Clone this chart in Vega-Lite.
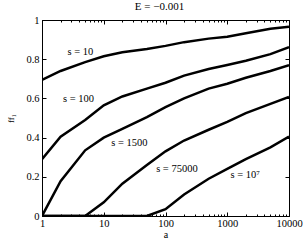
{
  "$schema": "https://vega.github.io/schema/vega-lite/v6.json",
  "width": 247,
  "height": 196,
  "autosize": {"type": "none"},
  "padding": {"left": 42, "top": 20, "right": 17, "bottom": 25},
  "background": "white",
  "config": {
    "view": {"stroke": "black", "strokeWidth": 1},
    "font": "Liberation Serif",
    "axis": {
      "labelFont": "Liberation Serif",
      "titleFont": "Liberation Serif",
      "labelFontSize": 10.5,
      "titleFontSize": 10.5,
      "titleFontWeight": "normal",
      "labelColor": "black",
      "titleColor": "black",
      "domainColor": "black",
      "tickColor": "black",
      "grid": false
    }
  },
  "title": {"text": "E = −0.001", "font": "Liberation Serif", "fontSize": 11, "fontWeight": "normal", "color": "black", "offset": 3, "dx": -6},
  "datasets": {
    "curves": [
      {"s": "10", "a": 1, "f": 0.695}, {"s": "10", "a": 2, "f": 0.74}, {"s": "10", "a": 5, "f": 0.785}, {"s": "10", "a": 10, "f": 0.815}, {"s": "10", "a": 20, "f": 0.835}, {"s": "10", "a": 50, "f": 0.852}, {"s": "10", "a": 100, "f": 0.868}, {"s": "10", "a": 200, "f": 0.887}, {"s": "10", "a": 500, "f": 0.905}, {"s": "10", "a": 1000, "f": 0.915}, {"s": "10", "a": 2000, "f": 0.932}, {"s": "10", "a": 5000, "f": 0.955}, {"s": "10", "a": 10000, "f": 0.965},
      {"s": "100", "a": 1, "f": 0.29}, {"s": "100", "a": 2, "f": 0.405}, {"s": "100", "a": 5, "f": 0.49}, {"s": "100", "a": 10, "f": 0.565}, {"s": "100", "a": 20, "f": 0.61}, {"s": "100", "a": 50, "f": 0.65}, {"s": "100", "a": 100, "f": 0.68}, {"s": "100", "a": 200, "f": 0.716}, {"s": "100", "a": 500, "f": 0.75}, {"s": "100", "a": 1000, "f": 0.77}, {"s": "100", "a": 2000, "f": 0.792}, {"s": "100", "a": 5000, "f": 0.826}, {"s": "100", "a": 10000, "f": 0.862},
      {"s": "1500", "a": 1, "f": 0}, {"s": "1500", "a": 2, "f": 0.178}, {"s": "1500", "a": 5, "f": 0.335}, {"s": "1500", "a": 10, "f": 0.4}, {"s": "1500", "a": 20, "f": 0.445}, {"s": "1500", "a": 50, "f": 0.505}, {"s": "1500", "a": 100, "f": 0.555}, {"s": "1500", "a": 200, "f": 0.6}, {"s": "1500", "a": 500, "f": 0.65}, {"s": "1500", "a": 1000, "f": 0.675}, {"s": "1500", "a": 2000, "f": 0.705}, {"s": "1500", "a": 5000, "f": 0.74}, {"s": "1500", "a": 10000, "f": 0.77},
      {"s": "75000", "a": 1, "f": 0}, {"s": "75000", "a": 2, "f": 0}, {"s": "75000", "a": 5, "f": 0}, {"s": "75000", "a": 10, "f": 0.07}, {"s": "75000", "a": 20, "f": 0.165}, {"s": "75000", "a": 50, "f": 0.26}, {"s": "75000", "a": 100, "f": 0.33}, {"s": "75000", "a": 200, "f": 0.385}, {"s": "75000", "a": 500, "f": 0.44}, {"s": "75000", "a": 1000, "f": 0.48}, {"s": "75000", "a": 2000, "f": 0.525}, {"s": "75000", "a": 5000, "f": 0.572}, {"s": "75000", "a": 10000, "f": 0.607},
      {"s": "1e7", "a": 1, "f": 0}, {"s": "1e7", "a": 2, "f": 0}, {"s": "1e7", "a": 5, "f": 0}, {"s": "1e7", "a": 10, "f": 0}, {"s": "1e7", "a": 20, "f": 0}, {"s": "1e7", "a": 50, "f": 0}, {"s": "1e7", "a": 100, "f": 0.035}, {"s": "1e7", "a": 200, "f": 0.11}, {"s": "1e7", "a": 500, "f": 0.19}, {"s": "1e7", "a": 1000, "f": 0.24}, {"s": "1e7", "a": 2000, "f": 0.29}, {"s": "1e7", "a": 5000, "f": 0.35}, {"s": "1e7", "a": 10000, "f": 0.405}
    ],
    "labels": [
      {"label": "s = 10", "a": 4.2, "f": 0.837},
      {"label": "s = 100", "a": 3.9, "f": 0.595},
      {"label": "s = 1500", "a": 26, "f": 0.372},
      {"label": "s = 75000", "a": 153, "f": 0.242},
      {"label": "s = 10⁷", "a": 1950, "f": 0.21}
    ]
  },
  "layer": [
    {
      "data": {"name": "curves"},
      "mark": {"type": "line", "color": "black", "strokeWidth": 2.5, "clip": true},
      "encoding": {
        "x": {"field": "a", "type": "quantitative", "scale": {"type": "log", "domain": [1, 10000]},
          "axis": {"orient": "bottom", "title": "a", "titlePadding": -1, "titleFontSize": 10,
            "values": [1,2,3,4,5,6,7,8,9,10,20,30,40,50,60,70,80,90,100,200,300,400,500,600,700,800,900,1000,2000,3000,4000,5000,6000,7000,8000,9000,10000],
            "format": "d",
            "labelExpr": "indexof([1,10,100,1000,10000], datum.value) >= 0 ? datum.label : ''",
            "tickSize": {"condition": {"test": "indexof([1,10,100,1000,10000], datum.value) >= 0", "value": -4}, "value": -2},
            "labelPadding": 6, "labelFlush": false, "labelOverlap": false}},
        "y": {"field": "f", "type": "quantitative", "scale": {"domain": [0, 1], "nice": false},
          "axis": {"orient": "left", "title": "ff₁", "titleFontSize": 9, "titlePadding": 10, "values": [0, 0.2, 0.4, 0.6, 0.8, 1], "format": "~g", "tickSize": -4, "labelPadding": 7}},
        "detail": {"field": "s"}
      }
    },
    {
      "data": {"name": "curves"},
      "mark": {"type": "line", "opacity": 0},
      "encoding": {
        "x": {"field": "a", "type": "quantitative", "scale": {"type": "log", "domain": [1, 10000]},
          "axis": {"orient": "top", "title": null, "labels": false,
            "values": [1,2,3,4,5,6,7,8,9,10,20,30,40,50,60,70,80,90,100,200,300,400,500,600,700,800,900,1000,2000,3000,4000,5000,6000,7000,8000,9000,10000],
            "tickSize": {"condition": {"test": "indexof([1,10,100,1000,10000], datum.value) >= 0", "value": -4}, "value": -2}}},
        "y": {"field": "f", "type": "quantitative", "scale": {"domain": [0, 1], "nice": false},
          "axis": {"orient": "right", "title": null, "labels": false, "values": [0, 0.2, 0.4, 0.6, 0.8, 1], "tickSize": -4}},
        "detail": {"field": "s"}
      }
    },
    {
      "data": {"name": "labels"},
      "mark": {"type": "text", "font": "Liberation Serif", "fontSize": 10.5, "color": "black", "align": "center", "baseline": "middle"},
      "encoding": {
        "x": {"field": "a", "type": "quantitative", "axis": null},
        "y": {"field": "f", "type": "quantitative", "axis": null},
        "text": {"field": "label"}
      }
    }
  ],
  "resolve": {"axis": {"x": "independent", "y": "independent"}}
}
